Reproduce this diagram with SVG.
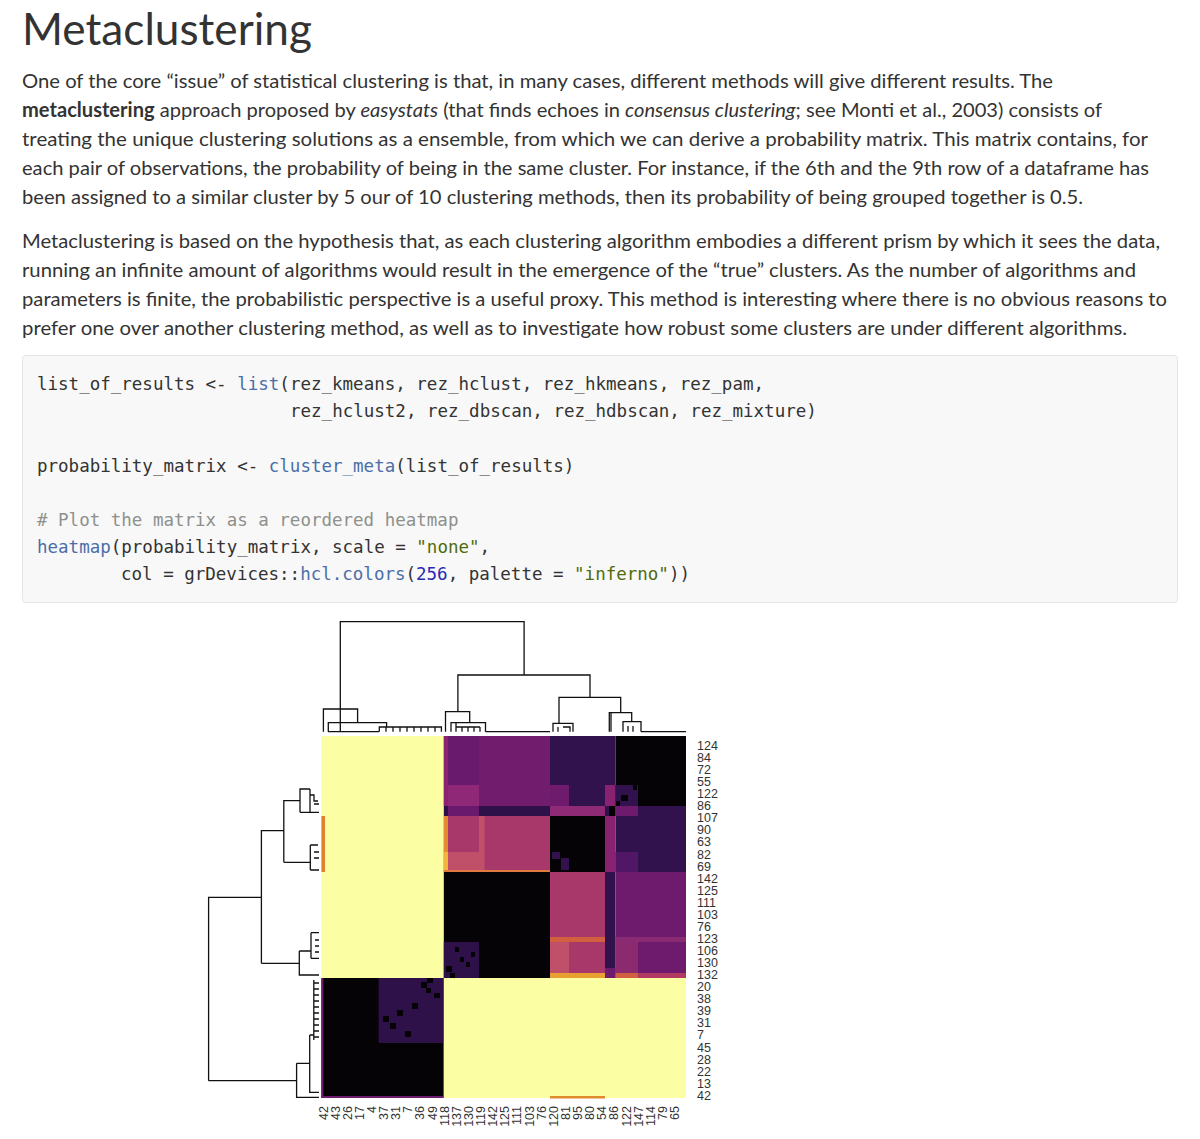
<svg xmlns="http://www.w3.org/2000/svg" width="1200" height="1139" viewBox="0 0 1200 1139">
<style>
.p{font-family:Lato,"Open Sans","Liberation Sans",sans-serif;font-size:20px;fill:#333}
.c{font-family:"DejaVu Sans Mono","Liberation Mono",monospace;font-size:17.5px;fill:#333}
.fn{fill:#4b6ea8}.st{fill:#4f6a0a}.nu{fill:#2a2ab0}.cm{fill:#8e908c}
.lab{font-family:"Liberation Sans",Arial,sans-serif;font-size:12.5px;fill:#333}
.d{fill:none;stroke:#111;stroke-width:1.3}
</style>
<rect width="1200" height="1139" fill="#fff"/>
<text x="22" y="45" font-family="Lato,'Open Sans',sans-serif" font-size="44" fill="#333" textLength="290" lengthAdjust="spacingAndGlyphs">Metaclustering</text>
<g id="para1">
<text class="p" x="22" y="88" textLength="1031" lengthAdjust="spacingAndGlyphs">One of the core “issue” of statistical clustering is that, in many cases, different methods will give different results. The</text>
<text class="p" x="22" y="117" textLength="1080" lengthAdjust="spacingAndGlyphs"><tspan font-weight="bold">metaclustering</tspan> approach proposed by <tspan font-style="italic">easystats</tspan> (that finds echoes in <tspan font-style="italic">consensus clustering</tspan>; see Monti et al., 2003) consists of</text>
<text class="p" x="22" y="146" textLength="1126" lengthAdjust="spacingAndGlyphs">treating the unique clustering solutions as a ensemble, from which we can derive a probability matrix. This matrix contains, for</text>
<text class="p" x="22" y="175" textLength="1127" lengthAdjust="spacingAndGlyphs">each pair of observations, the probability of being in the same cluster. For instance, if the 6th and the 9th row of a dataframe has</text>
<text class="p" x="22" y="204" textLength="1061" lengthAdjust="spacingAndGlyphs">been assigned to a similar cluster by 5 our of 10 clustering methods, then its probability of being grouped together is 0.5.</text>
</g>
<g id="para2">
<text class="p" x="22" y="248" textLength="1138" lengthAdjust="spacingAndGlyphs">Metaclustering is based on the hypothesis that, as each clustering algorithm embodies a different prism by which it sees the data,</text>
<text class="p" x="22" y="277" textLength="1114" lengthAdjust="spacingAndGlyphs">running an infinite amount of algorithms would result in the emergence of the “true” clusters. As the number of algorithms and</text>
<text class="p" x="22" y="306" textLength="1145" lengthAdjust="spacingAndGlyphs">parameters is finite, the probabilistic perspective is a useful proxy. This method is interesting where there is no obvious reasons to</text>
<text class="p" x="22" y="335" textLength="1105" lengthAdjust="spacingAndGlyphs">prefer one over another clustering method, as well as to investigate how robust some clusters are under different algorithms.</text>
</g>
<g id="code">
<rect x="22.5" y="355.5" width="1155" height="247" rx="3" fill="#f8f8f8" stroke="#e6e6e6"/>
<text class="c" x="37" y="390">list_of_results &lt;- <tspan class="fn">list</tspan>(rez_kmeans, rez_hclust, rez_hkmeans, rez_pam,</text>
<text class="c" x="290" y="417">rez_hclust2, rez_dbscan, rez_hdbscan, rez_mixture)</text>
<text class="c" x="37" y="472">probability_matrix &lt;- <tspan class="fn">cluster_meta</tspan>(list_of_results)</text>
<text class="c cm" x="37" y="526"># Plot the matrix as a reordered heatmap</text>
<text class="c" x="37" y="553"><tspan class="fn">heatmap</tspan>(probability_matrix, scale = <tspan class="st">"none"</tspan>,</text>
<text class="c" x="121" y="580">col = grDevices::<tspan class="fn">hcl.colors</tspan>(<tspan class="nu">256</tspan>, palette = <tspan class="st">"inferno"</tspan>))</text>
</g>
<g id="heatmap">
<rect x="321.4" y="736" width="122.4" height="242" fill="#fcfea4"/>
<rect x="321.4" y="978" width="122.4" height="120" fill="#050305"/>
<rect x="378.6" y="978" width="65.2" height="65" fill="#2e1148"/>
<rect x="321.4" y="978" width="2" height="120" fill="#6e1a6f"/>
<rect x="321.4" y="1096" width="122.4" height="2" fill="#6e1a6f"/>
<g fill="#050305">
<rect x="427" y="978" width="6" height="5"/><rect x="421" y="982" width="6" height="6"/><rect x="426" y="988" width="5" height="5"/><rect x="434" y="993" width="6" height="5"/><rect x="412" y="1003" width="6" height="6"/><rect x="397" y="1010" width="6" height="6"/><rect x="383" y="1016" width="6" height="6"/><rect x="390" y="1023" width="6" height="6"/><rect x="405" y="1031" width="6" height="6"/>
</g>
<rect x="321.4" y="816" width="3.6" height="56" fill="#e0802a"/>
<rect x="443.8" y="978" width="242.2" height="120" fill="#fcfea4"/>
<rect x="550" y="1096" width="55" height="2.5" fill="#e08a30"/>
<rect x="443.8" y="736" width="106.2" height="70" fill="#721c6e"/>
<rect x="448" y="736" width="31" height="49" fill="#6a1a6c"/>
<rect x="448" y="785" width="31" height="21" fill="#8e2877"/>
<rect x="443.8" y="736" width="4.2" height="70" fill="#8a2270"/>
<rect x="443.8" y="806" width="106.2" height="10" fill="#2e1148"/>
<rect x="448" y="806" width="31" height="10" fill="#6a1a6c"/>
<rect x="443.8" y="816" width="106.2" height="56" fill="#a8386a"/>
<rect x="479" y="816" width="5.5" height="36" fill="#c0506a"/>
<rect x="448" y="852" width="36.5" height="20" fill="#c0506a"/>
<rect x="443.8" y="816" width="4.2" height="56" fill="#e48a30"/>
<rect x="443.8" y="852" width="4.2" height="20" fill="#f2b43a"/>
<rect x="443.8" y="870" width="106.2" height="2" fill="#e07a40"/>
<rect x="443.8" y="872" width="106.2" height="106" fill="#050305"/>
<rect x="443.8" y="942" width="35.2" height="36" fill="#2e1148"/>
<g fill="#050305">
<rect x="455" y="947" width="4" height="5"/><rect x="471" y="952" width="4" height="5"/><rect x="460" y="957" width="4" height="5"/><rect x="466" y="962" width="4" height="5"/><rect x="446" y="966" width="6" height="6"/><rect x="450" y="973" width="5" height="5"/>
</g>
<rect x="550" y="736" width="55" height="80" fill="#32124c"/>
<rect x="550" y="785" width="19" height="21" fill="#6e1b6e"/>
<rect x="550" y="806" width="55" height="10" fill="#8f2b76"/>
<rect x="550" y="816" width="55" height="56" fill="#050305"/>
<rect x="552" y="852" width="8" height="7" fill="#32124c"/><rect x="561" y="858" width="8" height="12" fill="#32124c"/>
<rect x="550" y="872" width="55" height="106" fill="#a8386a"/>
<rect x="550" y="937" width="55" height="5" fill="#d0603f"/>
<rect x="550" y="942" width="19" height="31" fill="#c0506a"/>
<rect x="550" y="973" width="55" height="5" fill="#e8a030"/>
<rect x="605" y="736" width="10.5" height="80" fill="#32124c"/>
<rect x="605" y="785" width="10.5" height="21" fill="#8a2272"/>
<rect x="609" y="806" width="6.5" height="10" fill="#050305"/>
<rect x="605" y="816" width="10.5" height="56" fill="#8a2272"/>
<rect x="605" y="872" width="10.5" height="106" fill="#32124c"/>
<rect x="605" y="968" width="10.5" height="10" fill="#6e1b6e"/>
<rect x="615.5" y="736" width="70.5" height="70" fill="#050305"/>
<rect x="615.5" y="785" width="22.5" height="21" fill="#32124c"/>
<g fill="#050305"><rect x="633" y="785" width="4" height="5"/><rect x="621" y="795" width="7" height="6"/><rect x="616" y="801" width="4" height="5"/></g>
<rect x="615.5" y="806" width="70.5" height="66" fill="#32124c"/>
<rect x="615.5" y="806" width="22.5" height="10" fill="#6e1b6e"/>
<rect x="615.5" y="852" width="22.5" height="20" fill="#501767"/>
<rect x="615.5" y="872" width="70.5" height="106" fill="#6e1b6e"/>
<rect x="615.5" y="937" width="70.5" height="5" fill="#8a2a72"/>
<rect x="615.5" y="942" width="22.5" height="31" fill="#8c2a70"/>
<rect x="615.5" y="973" width="22.5" height="5" fill="#d06040"/>
<rect x="638" y="973" width="48" height="5" fill="#b03a60"/>
</g>
<g id="connectors">
<path class="d" d="M340.3,731.7V621.7H524.1V675 M323.4,731.7V709H357.6V722.7 M328.3,731.7V722.7H386.6V727 M379.3,731.7V727H441.4V731.7 M386,727V731.7 M393,727V731.7 M400,727V731.7 M407,727V731.7 M414,727V731.7 M421,727V731.7 M428,727V731.7 M435,727V731.7 M328,731.7H379"/>
<path class="d" d="M457.9,711.7V675H590V697.3 M445.5,731.7V711.7H469.7V722.7 M451,731.7V722.7H485.5V731.7 M456,722.7V731.7 M462,727V731.7 M468,727V731.7 M474,727V731.7 M480,727V731.7 M456,727H480 M485.5,731.7H550"/>
<path class="d" d="M559,723.3V697.3H620.7V712.7 M553,731.7V723.3H573V731.7 M558,727V731.7 M563,727H570V731.7 M609.3,731.7V712.7H631.7V721.7 M611,712.7V731.7 M623,731.7V721.7H641V731.7 M628,726V731.7 M633,726V731.7 M641,731.7H686"/>
<path class="d" d="M208.6,1080.7V897.3H261.4 M261.4,963.3V830.7H283.8 M283.8,862.3V800.7H300 M300,812.3V789H310 M310,789V812.3 M310,795H314V801H318 M300,812.3H319 M314,804H319 M283.8,862.3H310.3 M310.3,845V870 M310.3,845H318 M310.3,870H319 M314,852H319 M314,858H319"/>
<path class="d" d="M261.4,963.3H299.3 M299.3,951V975H319 M299.3,951H311 M311,932.7V958.3 M311,932.7H319 M311,958.3H319 M315,940H319 M315,946H319 M315,952H319"/>
<path class="d" d="M208.6,1080.7H296.6 M296.6,1063.3V1097.3H319 M296.6,1063.3H309.7 M309.7,1035V1092.3H319 M309.7,1035H313.8 M313.8,980V1040 M313.8,983H319 M313.8,989H319 M313.8,995H319 M313.8,1001H319 M313.8,1007H319 M313.8,1013H319 M313.8,1019H319 M313.8,1025H319 M313.8,1031H319 M313.8,1037H319"/>
</g>
<g id="rowlabels" class="lab">
<text x="697" y="750">124</text><text x="697" y="762">84</text><text x="697" y="774">72</text><text x="697" y="786">55</text><text x="697" y="798">122</text><text x="697" y="810">86</text><text x="697" y="822">107</text><text x="697" y="834">90</text><text x="697" y="846">63</text><text x="697" y="859">82</text><text x="697" y="871">69</text><text x="697" y="883">142</text><text x="697" y="895">125</text><text x="697" y="907">111</text><text x="697" y="919">103</text><text x="697" y="931">76</text><text x="697" y="943">123</text><text x="697" y="955">106</text><text x="697" y="967">130</text><text x="697" y="979">132</text><text x="697" y="991">20</text><text x="697" y="1003">38</text><text x="697" y="1015">39</text><text x="697" y="1027">31</text><text x="697" y="1039">7</text><text x="697" y="1052">45</text><text x="697" y="1064">28</text><text x="697" y="1076">22</text><text x="697" y="1088">13</text><text x="697" y="1100">42</text>
</g>
<g id="collabels" class="lab" text-anchor="end">
<text transform="translate(328,1106) rotate(-90)">42</text>
<text transform="translate(340,1106) rotate(-90)">43</text>
<text transform="translate(352,1106) rotate(-90)">26</text>
<text transform="translate(364,1106) rotate(-90)">17</text>
<text transform="translate(376,1106) rotate(-90)">4</text>
<text transform="translate(388,1106) rotate(-90)">37</text>
<text transform="translate(400,1106) rotate(-90)">31</text>
<text transform="translate(412,1106) rotate(-90)">7</text>
<text transform="translate(424,1106) rotate(-90)">36</text>
<text transform="translate(437,1106) rotate(-90)">49</text>
<text transform="translate(449,1106) rotate(-90)">118</text>
<text transform="translate(461,1106) rotate(-90)">137</text>
<text transform="translate(473,1106) rotate(-90)">130</text>
<text transform="translate(485,1106) rotate(-90)">119</text>
<text transform="translate(497,1106) rotate(-90)">142</text>
<text transform="translate(509,1106) rotate(-90)">125</text>
<text transform="translate(521,1106) rotate(-90)">111</text>
<text transform="translate(534,1106) rotate(-90)">103</text>
<text transform="translate(546,1106) rotate(-90)">76</text>
<text transform="translate(558,1106) rotate(-90)">120</text>
<text transform="translate(570,1106) rotate(-90)">81</text>
<text transform="translate(582,1106) rotate(-90)">95</text>
<text transform="translate(594,1106) rotate(-90)">80</text>
<text transform="translate(606,1106) rotate(-90)">54</text>
<text transform="translate(618,1106) rotate(-90)">86</text>
<text transform="translate(631,1106) rotate(-90)">122</text>
<text transform="translate(643,1106) rotate(-90)">147</text>
<text transform="translate(655,1106) rotate(-90)">114</text>
<text transform="translate(667,1106) rotate(-90)">79</text>
<text transform="translate(679,1106) rotate(-90)">65</text>
</g>
</svg>
